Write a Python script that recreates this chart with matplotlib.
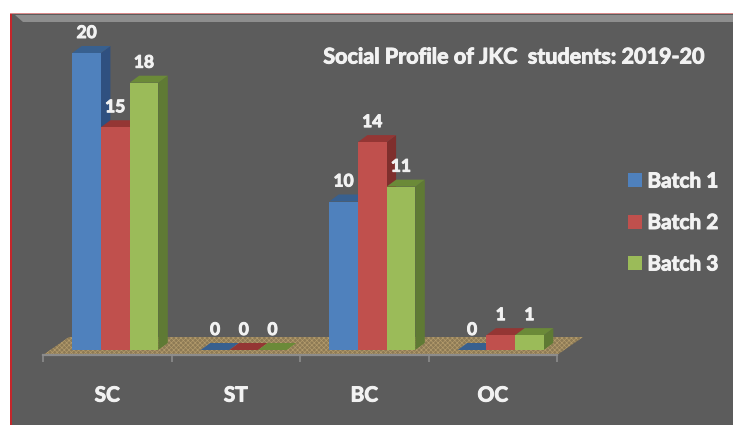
import matplotlib
matplotlib.use("Agg")
import matplotlib.pyplot as plt
import matplotlib.patheffects as pe
from matplotlib.patches import Polygon, Rectangle

# Daten
kategorien = ["SC", "ST", "BC", "OC"]
batch_1 = [20, 0, 10, 0]
batch_2 = [15, 0, 14, 1]
batch_3 = [18, 0, 11, 1]
batch_namen = ["Batch 1", "Batch 2", "Batch 3"]
titel = "Social Profile of JKC  students: 2019-20"

farben = ["#4f81bd", "#c0504d", "#9bbb59"]
farben_oben = ["#38608f", "#943634", "#6b8a38"]
farben_seite = ["#2f5080", "#7f2f2d", "#5f7a34"]
text_farbe = "#f2f2f2"
grau = "#5c5c5c"

B, H = 733, 425
plt.rcParams["font.family"] = ["Lato", "DejaVu Sans"]
plt.rcParams["font.weight"] = "bold"
plt.rcParams["hatch.linewidth"] = 0.5

# Schrift etwas fetter wie im Original
fett = [pe.withStroke(linewidth=0.7, foreground=text_farbe)]

fig = plt.figure(figsize=(B / 100, H / 100), dpi=100, facecolor="white")

# Hintergrund mit rotem Rand und hellem Streifen oben
fig.patches.append(Rectangle((10 / B, 0), 1, 1 - 13 / H, transform=fig.transFigure, fc="#d98a8a", ec="none"))
fig.patches.append(Rectangle((10 / B, 0), 1, 1 - 14 / H, transform=fig.transFigure, fc="#c4262b", ec="none"))
fig.patches.append(Rectangle((12 / B, 0), 1, 1 - 14 / H, transform=fig.transFigure, fc=grau, ec="none"))
fig.patches.append(Polygon([(15 / B, 1 - 15 / H), (1, 1 - 15 / H), (1, 1 - 22 / H), (23 / B, 1 - 22 / H)],
                           transform=fig.transFigure, fc="#8e8e8e", ec="none"))

# Achse: x von 43 bis 557 px, y-Grundlinie bei 355 px
px_pro_wert = 14.85
y_min = -5 / px_pro_wert
y_max = (350 - 13) / px_pro_wert
ax = fig.add_axes([43 / B, (H - 355) / H, (557 - 43) / B, (355 - 13) / H])
ax.set_zorder(5)
ax.set_xlim(-0.5, 3.5)
ax.set_ylim(y_min, y_max)
ax.patch.set_visible(False)
px_pro_x = (557 - 43) / 4

for s in ["top", "left", "right"]:
    ax.spines[s].set_visible(False)
ax.spines["bottom"].set_color("#8c8c8c")
ax.spines["bottom"].set_linewidth(1.6)
ax.set_yticks([])
ax.set_xticks(range(len(kategorien)))
ax.set_xticklabels(kategorien, fontsize=15, color=text_farbe, path_effects=fett)
ax.set_xticks([-0.5, 0.5, 1.5, 2.5, 3.5], minor=True)
ax.tick_params(axis="x", which="major", length=0, pad=22)
ax.tick_params(axis="x", which="minor", length=5, width=1.2, color="#8c8c8c")

# Boden
boden_x = 26 / px_pro_x
boden_y = 18 / px_pro_wert
ax.add_patch(Polygon([(-0.5, y_min), (3.5, y_min), (3.5 + boden_x, y_min + boden_y), (-0.5 + boden_x, y_min + boden_y)],
                     fc="#8d7a55", ec="#b39b6c", hatch="xxxxxxx", lw=0, clip_on=False, zorder=1))

# 3D-Balken
breite = 28.7 / px_pro_x
tiefe_x = 9.5 / px_pro_x
tiefe_y = 7 / px_pro_wert
versatz = 8 / px_pro_x
werte = [batch_1, batch_2, batch_3]

# Batch 1 zuerst, spaetere Balken liegen ueber den Seitenflaechen
for j in range(len(werte)):
    for i, w in enumerate(werte[j]):
        x0 = i + versatz + (j - 1.5) * breite
        x1 = x0 + breite
        z = 3 + 0.1 * j
        ax.add_patch(Polygon([(x1, 0), (x1 + tiefe_x, tiefe_y), (x1 + tiefe_x, w + tiefe_y), (x1, w)],
                             fc=farben_seite[j], ec="none", zorder=z, clip_on=False))
        ax.add_patch(Polygon([(x0, w), (x1, w), (x1 + tiefe_x, w + tiefe_y), (x0 + tiefe_x, w + tiefe_y)],
                             fc=farben_oben[j], ec="none", zorder=z, clip_on=False))
        ax.bar(x0, w, width=breite, align="edge", color=farben[j], zorder=z + 0.05)
        ax.text(x0 + breite / 2, w + 20 / px_pro_wert, str(w), ha="center", va="center",
                fontsize=12.5, color=text_farbe, zorder=6, path_effects=fett)

# Legende
griffe = [Rectangle((0, 0), 1, 1, fc=f, ec="none") for f in farben]
leg = ax.legend(griffe, batch_namen, loc="center left", bbox_to_anchor=(628 / B, (H - 223) / H),
                bbox_transform=fig.transFigure, frameon=False, fontsize=15, labelcolor=text_farbe,
                handlelength=0.65, handleheight=0.65, handletextpad=0.28, labelspacing=1.03, borderpad=0, borderaxespad=0)
for t in leg.get_texts():
    t.set_path_effects(fett)

fig.text(514 / B, 1 - 57 / H, titel, ha="center", va="center", fontsize=15.5, color=text_farbe, path_effects=fett)

fig.savefig("out.png", dpi=100)
